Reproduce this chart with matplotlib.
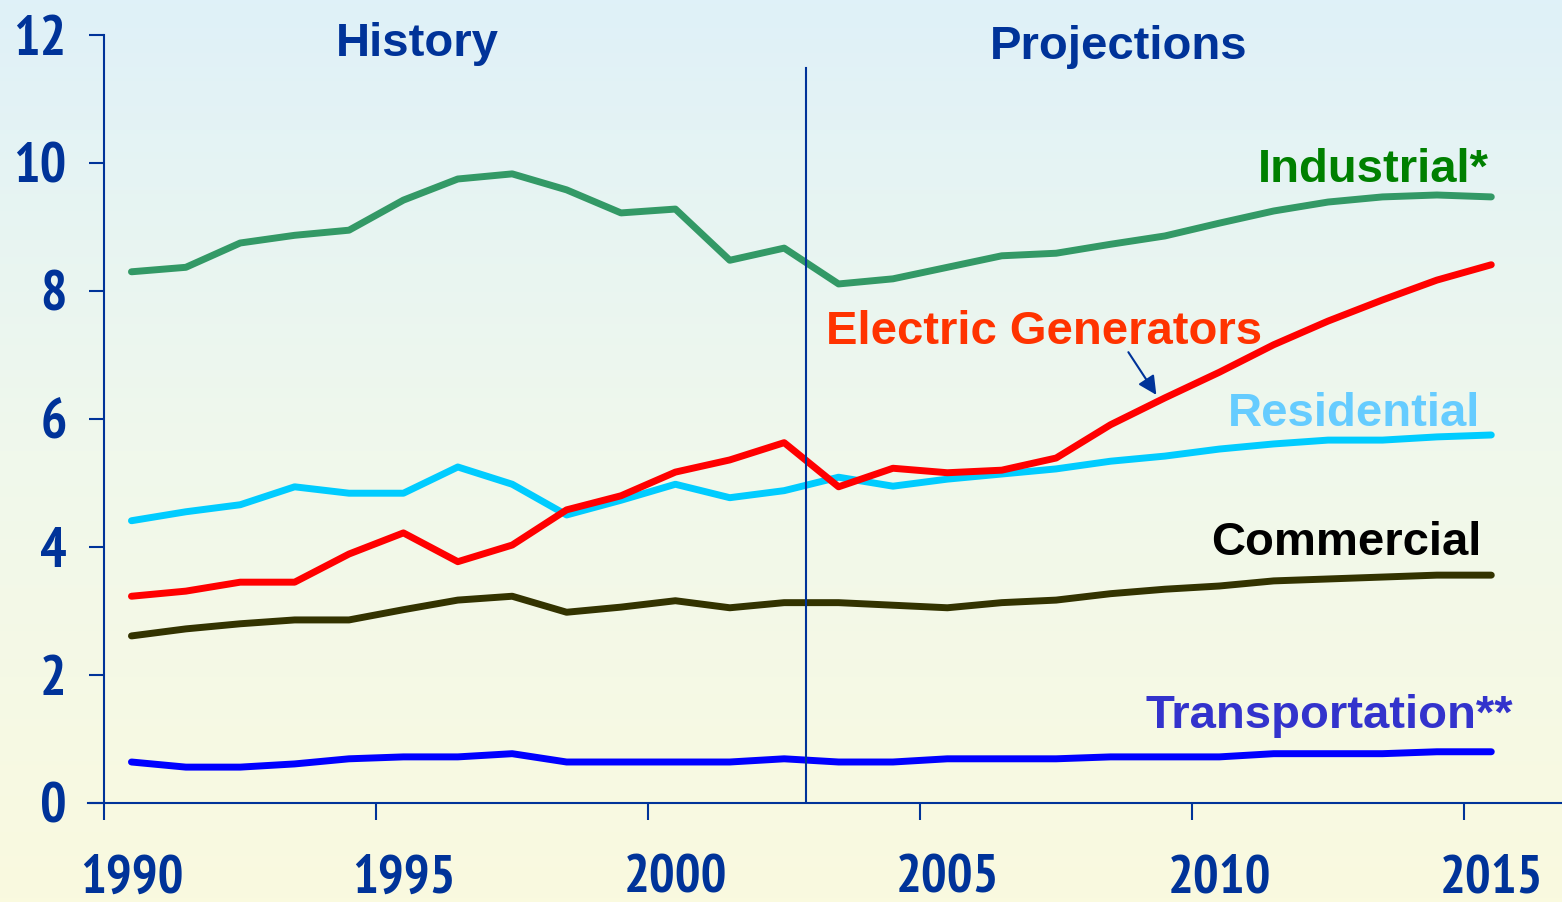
import matplotlib
matplotlib.use('Agg')
import matplotlib.pyplot as plt
import numpy as np
from matplotlib.colors import LinearSegmentedColormap

years = list(range(1990, 2016))

industrial = [8.30, 8.37, 8.75, 8.87, 8.95, 9.42, 9.75, 9.83, 9.58, 9.22, 9.28, 8.48, 8.67,
              8.11, 8.19, 8.37, 8.55, 8.59, 8.73, 8.86, 9.06, 9.25, 9.39, 9.47, 9.50, 9.47]
electric = [3.23, 3.31, 3.45, 3.45, 3.89, 4.22, 3.77, 4.03, 4.58, 4.80, 5.17, 5.36, 5.63,
            4.94, 5.23, 5.16, 5.20, 5.39, 5.91, 6.33, 6.73, 7.16, 7.53, 7.86, 8.17, 8.41]
residential = [4.41, 4.55, 4.66, 4.94, 4.84, 4.84, 5.25, 4.98, 4.50, 4.73, 4.98, 4.77, 4.88,
               5.09, 4.95, 5.06, 5.14, 5.22, 5.34, 5.42, 5.53, 5.61, 5.67, 5.67, 5.72, 5.75]
commercial = [2.61, 2.72, 2.80, 2.86, 2.86, 3.02, 3.17, 3.23, 2.98, 3.06, 3.16, 3.05, 3.13,
              3.13, 3.09, 3.05, 3.13, 3.17, 3.27, 3.34, 3.39, 3.47, 3.50, 3.53, 3.56, 3.56]
transport = [0.64, 0.56, 0.56, 0.61, 0.69, 0.72, 0.72, 0.77, 0.64, 0.64, 0.64, 0.64, 0.69,
             0.64, 0.64, 0.69, 0.69, 0.69, 0.72, 0.72, 0.72, 0.77, 0.77, 0.77, 0.80, 0.80]

yticks = [0, 2, 4, 6, 8, 10, 12]
xlabels = [1990, 1995, 2000, 2005, 2010, 2015]

axis_col = '#003399'
sans = ['Liberation Sans', 'DejaVu Sans']
# tick numbers are in a narrow bold face in the original
narrow = ['Liberation Sans Narrow', 'Arial Narrow', 'PT Sans Narrow', 'Roboto Condensed',
          'Liberation Sans']

plt.rcParams['font.family'] = sans

fig = plt.figure(figsize=(15.62, 9.02), dpi=100)

# background gradient, light blue on top to light yellow at the bottom
bg = fig.add_axes([0, 0, 1, 1], zorder=-1)
cmap = LinearSegmentedColormap.from_list('bg', ['#FAFADF', '#F0F8EC', '#DFF1F8'])
bg.imshow(np.linspace(0, 1, 256).reshape(-1, 1), aspect='auto', cmap=cmap,
          origin='lower', extent=[0, 1, 0, 1])
bg.axis('off')

ax = fig.add_axes([0.0563, 0.1098, 0.9437, 0.8514])
ax.patch.set_alpha(0)

lw = 5
ax.plot(years, industrial, color='#339966', lw=lw, solid_capstyle='round')
ax.plot(years, residential, color='#00CCFF', lw=lw, solid_capstyle='round')
ax.plot(years, commercial, color='#333300', lw=lw, solid_capstyle='round')
ax.plot(years, electric, color='#FF0000', lw=lw, solid_capstyle='round')
ax.plot(years, transport, color='#0000FF', lw=lw, solid_capstyle='round')

ax.set_xlim(1989.2, 2016.3)
ax.set_ylim(0, 12)

for s in ['top', 'right']:
    ax.spines[s].set_visible(False)
ax.spines['left'].set_position(('data', 1989.5))
for s in ['left', 'bottom']:
    ax.spines[s].set_color(axis_col)
    ax.spines[s].set_linewidth(1.5)

ax.set_yticks(yticks)
ax.set_yticklabels([str(v) for v in yticks])
ax.tick_params(axis='y', direction='out', length=11, width=1.5, color=axis_col,
               pad=16, labelsize=40, labelcolor=axis_col)

ax.set_xticks([v - 0.5 for v in xlabels])
ax.set_xticklabels([])
ax.set_xticks(xlabels, minor=True)
ax.set_xticklabels([str(v) for v in xlabels], minor=True)
ax.tick_params(axis='x', which='major', direction='out', length=12, width=1.5, color=axis_col)
ax.tick_params(axis='x', which='minor', length=0, pad=37, labelsize=39, labelcolor=axis_col)

for lab in ax.get_yticklabels() + ax.get_xticklabels(minor=True):
    lab.set_fontfamily(narrow)
    lab.set_fontweight('bold')

ax.plot([2002.4, 2002.4], [0, 11.48], color=axis_col, lw=1.5)

tkw = dict(fontsize=34, fontweight='bold', family=sans, ha='left', va='baseline')
ax.text(1993.75, 11.67, 'History', color=axis_col, **tkw)
ax.text(2005.79, 11.63, 'Projections', color=axis_col, **tkw)
ax.text(2010.7, 9.70, 'Industrial*', color='#008000', **tkw)
ax.text(2002.77, 7.17, 'Electric Generators', color='#FF3300', **tkw)
ax.text(2010.16, 5.89, 'Residential', color='#66CCFF', **tkw)
ax.text(2009.85, 3.875, 'Commercial', color='#000000', **tkw)
ax.text(2008.64, 1.17, 'Transportation**', color='#3333CC', **tkw)

ax.annotate('', xy=(2008.87, 6.34), xytext=(2008.3, 7.08),
            arrowprops=dict(arrowstyle='-|>', color=axis_col, lw=1.5, mutation_scale=28))

fig.savefig('out.png', dpi=100)
